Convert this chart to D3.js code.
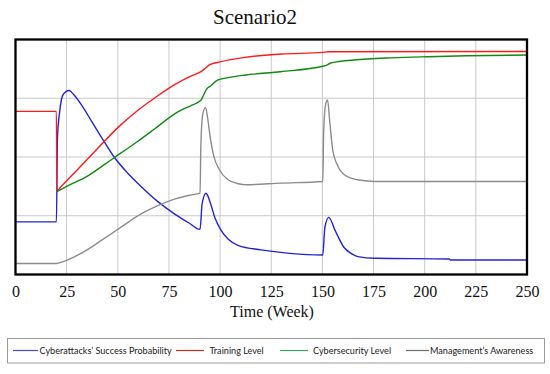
<!DOCTYPE html>
<html>
<head>
<meta charset="utf-8">
<script src="https://cdn.jsdelivr.net/npm/d3@7"></script>
<style>
  body { margin: 0; background: #fff; }
  svg { display: block; }
</style>
</head>
<body>
<div id="chart"></div>
<script>
// values are read off the picture as a fraction of the plot height (no y-axis is shown)
const weekTicks = [0, 25, 50, 75, 100, 125, 150, 175, 200, 225, 250];
const gridLevels = [0.25, 0.5, 0.75];

const successProbability = [
  [0, 0.224], [20, 0.224], [20.5, 0.579], [21.6, 0.694], [23.3, 0.766], [26.2, 0.783],
  [28.4, 0.766], [32, 0.725], [37, 0.655], [43, 0.57], [48.2, 0.5], [55, 0.43],
  [61, 0.378], [69.6, 0.31], [78.2, 0.255], [85, 0.218], [90.2, 0.192], [91.2, 0.3],
  [93.1, 0.346], [95.3, 0.303], [97.5, 0.24], [100.5, 0.188], [104, 0.15], [109, 0.123],
  [120, 0.105], [129.6, 0.094], [150.2, 0.083], [151.2, 0.2], [153.1, 0.243], [156.2, 0.188],
  [160.5, 0.116], [164, 0.09], [167.3, 0.076], [175.9, 0.069], [212, 0.066], [212.5, 0.062],
  [250, 0.062]
];

const trainingLevel = [
  [0, 0.694], [20, 0.694], [20.2, 0.353], [20.6, 0.357], [30, 0.444], [40, 0.535], [50, 0.625],
  [60, 0.7], [68, 0.751], [78, 0.809], [86, 0.845], [90, 0.86], [92, 0.872],
  [95, 0.893], [100, 0.905], [112, 0.924], [130, 0.938], [150, 0.945], [153, 0.948],
  [250, 0.949]
];

const cybersecurityLevel = [
  [20.2, 0.353], [25, 0.375], [35, 0.418], [48.2, 0.497], [59.3, 0.564], [67.9, 0.619],
  [78.2, 0.686], [86, 0.72], [90.5, 0.74], [92, 0.765], [93.5, 0.79], [95.3, 0.802],
  [98.7, 0.827], [104, 0.838], [112.6, 0.849], [129.6, 0.863], [150.2, 0.886], [152, 0.89],
  [154, 0.9], [157, 0.905], [164, 0.912], [181, 0.921], [198.6, 0.926], [220.5, 0.931],
  [250, 0.934]
];

const managementAwareness = [
  [0, 0.047], [20, 0.047], [23, 0.054], [28, 0.072], [35, 0.105], [42, 0.145],
  [49, 0.186], [55, 0.222], [61, 0.256], [69.6, 0.293], [78.2, 0.322], [85, 0.337],
  [90.2, 0.346], [90.6, 0.55], [91.5, 0.68], [92.9, 0.711], [94, 0.66], [95.3, 0.576],
  [96.9, 0.504], [99.6, 0.447], [103.9, 0.403], [109, 0.386], [112.6, 0.382], [129.6, 0.389],
  [150.2, 0.396], [150.6, 0.6], [151.5, 0.72], [152.5, 0.743], [153.6, 0.65], [155, 0.533],
  [157.6, 0.461], [161.9, 0.418], [167.3, 0.403], [175.9, 0.396], [250, 0.396]
];

const seriesNames = [
  'Cyberattacks\u2019 Success Probability',
  'Training Level',
  'Cybersecurity Level',
  'Management\u2019s Awareness'
];

const width = 550;
const height = 374;
const plot = { left: 15.5, right: 527, top: 39.5, bottom: 274.5 };

const series = [
  { name: seriesNames[0], values: successProbability, color: '#2323d2', legendColor: '#4a4ac4' },
  { name: seriesNames[1], values: trainingLevel, color: '#ff1a1a', legendColor: '#b8321f' },
  { name: seriesNames[2], values: cybersecurityLevel, color: '#0e8a0e', legendColor: '#3fa363' },
  { name: seriesNames[3], values: managementAwareness, color: '#8c8c8c', legendColor: '#6e6e6e' }
];

const svg = d3.select('#chart')
  .append('svg')
  .attr('width', width)
  .attr('height', height);

const x = d3.scaleLinear().domain([0, 250]).range([plot.left, plot.right]);
const y = d3.scaleLinear().domain([0, 1]).range([plot.bottom, plot.top]);

svg.append('text')
  .attr('x', 255)
  .attr('y', 24)
  .attr('text-anchor', 'middle')
  .attr('font-family', '"Liberation Serif", "Times New Roman", serif')
  .attr('font-size', 21)
  .attr('fill', '#111')
  .text('Scenario2');

// grid
const grid = svg.append('g').attr('stroke', '#c9c9c9').attr('stroke-width', 1);
grid.selectAll('line.v')
  .data(weekTicks.slice(1, -1))
  .join('line')
  .attr('class', 'v')
  .attr('x1', (d) => x(d)).attr('x2', (d) => x(d))
  .attr('y1', plot.top).attr('y2', plot.bottom);
grid.selectAll('line.h')
  .data(gridLevels)
  .join('line')
  .attr('class', 'h')
  .attr('x1', plot.left).attr('x2', plot.right)
  .attr('y1', (d) => y(d)).attr('y2', (d) => y(d));

svg.append('clipPath')
  .attr('id', 'plot-clip')
  .append('rect')
  .attr('x', plot.left).attr('y', plot.top)
  .attr('width', plot.right - plot.left)
  .attr('height', plot.bottom - plot.top);

const line = d3.line()
  .x((d) => x(d[0]))
  .y((d) => y(d[1]))
  .curve(d3.curveMonotoneX);

svg.append('g')
  .attr('clip-path', 'url(#plot-clip)')
  .selectAll('path')
  .data(series)
  .join('path')
  .attr('d', (s) => line(s.values))
  .attr('fill', 'none')
  .attr('stroke', (s) => s.color)
  .attr('stroke-width', 1.4)
  .attr('stroke-linejoin', 'round');

// frame
svg.append('rect')
  .attr('x', plot.left).attr('y', plot.top)
  .attr('width', plot.right - plot.left)
  .attr('height', plot.bottom - plot.top)
  .attr('fill', 'none')
  .attr('stroke', '#000')
  .attr('stroke-width', 2.3);

const xAxis = svg.append('g')
  .attr('transform', `translate(0,${plot.bottom})`)
  .call(d3.axisBottom(x).tickValues(weekTicks).tickSize(0).tickPadding(11).tickFormat(d3.format('d')));
xAxis.select('.domain').remove();
xAxis.selectAll('text')
  .attr('font-family', '"Liberation Serif", "Times New Roman", serif')
  .attr('font-size', 16)
  .attr('fill', '#111');

svg.append('text')
  .attr('x', 272)
  .attr('y', 317)
  .attr('text-anchor', 'middle')
  .attr('font-family', '"Liberation Serif", "Times New Roman", serif')
  .attr('font-size', 16)
  .attr('fill', '#111')
  .text('Time (Week)');

// legend
const legend = svg.append('g');
legend.append('rect')
  .attr('x', 7.5).attr('y', 338.5)
  .attr('width', 537).attr('height', 24.5)
  .attr('fill', '#fff')
  .attr('stroke', '#9a9a9a')
  .attr('stroke-width', 1);

const legendSlots = [
  { x1: 13, x2: 38, tx: 39.5 },
  { x1: 176, x2: 204, tx: 209.5 },
  { x1: 280, x2: 308, tx: 313 },
  { x1: 406, x2: 429, tx: 430 }
];

const item = legend.selectAll('g.item')
  .data(series)
  .join('g')
  .attr('class', 'item');
item.append('line')
  .attr('x1', (s, i) => legendSlots[i].x1)
  .attr('x2', (s, i) => legendSlots[i].x2)
  .attr('y1', 350.5).attr('y2', 350.5)
  .attr('stroke', (s) => s.legendColor)
  .attr('stroke-width', 1.2);
item.append('text')
  .attr('x', (s, i) => legendSlots[i].tx)
  .attr('y', 353.8)
  .attr('font-family', 'Lato, "Open Sans", sans-serif')
  .attr('font-size', 9.1)
  .attr('fill', '#222')
  .text((s) => s.name);
</script>
</body>
</html>
